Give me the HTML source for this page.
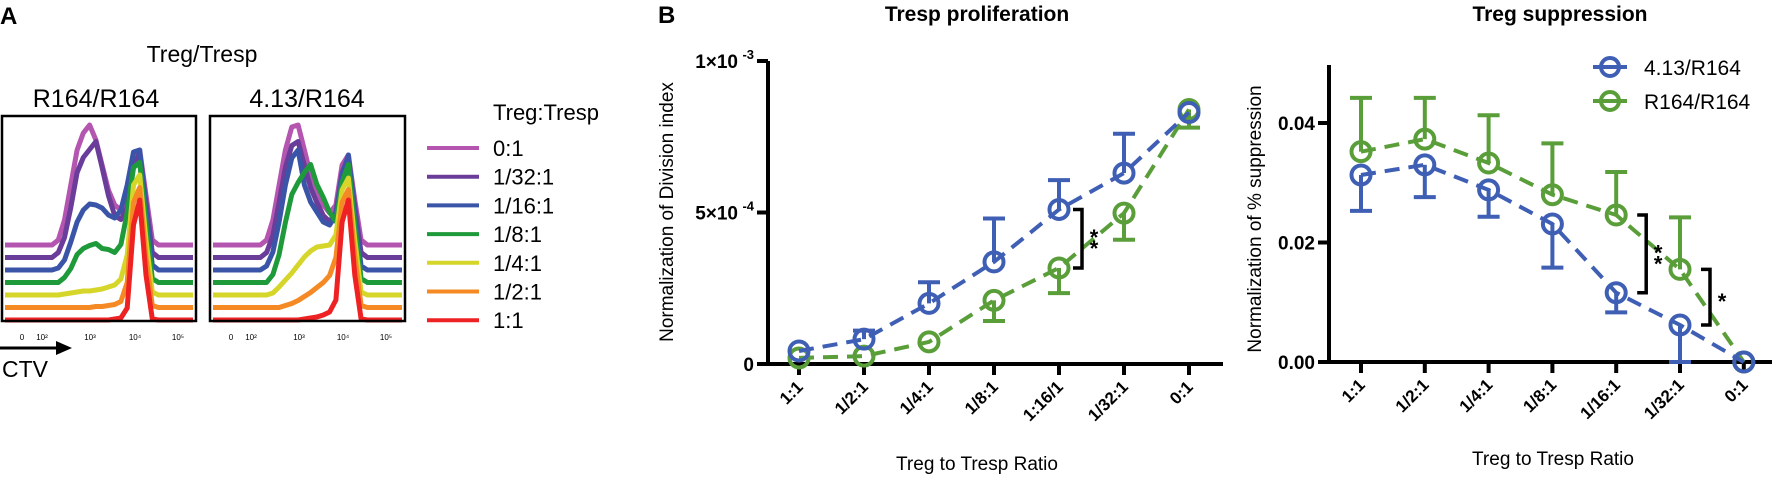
<!DOCTYPE html>
<html><head><meta charset="utf-8">
<style>
html,body{margin:0;padding:0;background:#fff;}
svg{display:block;font-family:"Liberation Sans",sans-serif;}
</style></head>
<body>
<svg id="fig" width="1772" height="477" viewBox="0 0 1772 477" xmlns="http://www.w3.org/2000/svg">
  <text x="0" y="24" font-size="24" font-weight="bold">A</text>
  <text x="202" y="62" font-size="23" text-anchor="middle">Treg/Tresp</text>
  <text x="96" y="107" font-size="25" text-anchor="middle">R164/R164</text>
  <text x="307" y="107" font-size="25" text-anchor="middle">4.13/R164</text>
  <g id="histA"></g>
  <rect x="2" y="116" width="194" height="205" fill="none" stroke="#000" stroke-width="2.5"/>
  <rect x="210" y="116" width="195" height="205" fill="none" stroke="#000" stroke-width="2.5"/>
  <g font-size="8" text-anchor="middle">
    <text x="22" y="340">0</text><text x="42" y="340">10²</text><text x="90" y="340">10³</text><text x="135" y="340">10⁴</text><text x="178" y="340">10⁵</text>
    <text x="231" y="340">0</text><text x="251" y="340">10²</text><text x="299" y="340">10³</text><text x="343" y="340">10⁴</text><text x="386" y="340">10⁵</text>
  </g>
  <line x1="0" y1="348" x2="58" y2="348" stroke="#000" stroke-width="3"/>
  <polygon points="56,341 72,348 56,355" fill="#000"/>
  <text x="2" y="377" font-size="23">CTV</text>
  <text x="493" y="120" font-size="22">Treg:Tresp</text>
  <g id="legA"></g>

  <text x="658" y="23" font-size="24" font-weight="bold">B</text>
  <text x="977" y="21" font-size="21" font-weight="bold" text-anchor="middle">Tresp proliferation</text>
  <text x="1560" y="21" font-size="21" font-weight="bold" text-anchor="middle">Treg suppression</text>
  <text transform="translate(673,212) rotate(-90)" font-size="19" text-anchor="middle">Normalization of Division index</text>
  <text transform="translate(1261,219) rotate(-90)" font-size="19" text-anchor="middle">Normalization of % suppression</text>
  <text x="977" y="470" font-size="19" text-anchor="middle">Treg to Tresp Ratio</text>
  <text x="1553" y="465" font-size="19" text-anchor="middle">Treg to Tresp Ratio</text>
  <g id="c1"></g>
  <g id="c2"></g>

  <g>
    <g>
      <line x1="1593" y1="67" x2="1627" y2="67" stroke="#3f5fb5" stroke-width="4"/>
      <circle cx="1610" cy="67" r="9" fill="none" stroke="#3f5fb5" stroke-width="4"/>
      <text x="1644" y="75" font-size="21">4.13/R164</text>
    </g>
    <g>
      <line x1="1593" y1="101" x2="1627" y2="101" stroke="#5a9e3a" stroke-width="4"/>
      <circle cx="1610" cy="101" r="9" fill="none" stroke="#5a9e3a" stroke-width="4"/>
      <text x="1644" y="109" font-size="21">R164/R164</text>
    </g>
  </g>
</svg>
<script>
const histLabels = ["0:1","1/32:1","1/16:1","1/8:1","1/4:1","1/2:1","1:1"];
const histColors = ["#b455b0","#6a3d9a","#3a55a8","#1f9a3a","#d6d62a","#f58a25","#ee2222"];
const histR164 = [
 [0,0,0,0,0,0,0,0,5,25,60,95,112,120,105,80,55,40,35,45,85,95,50,5,0,0,0,0,0,0],
 [0,0,0,0,0,0,0,0,5,20,50,85,100,108,116,90,62,42,38,50,90,105,55,5,0,0,0,0,0,0],
 [0,0,0,0,0,0,0,0,2,10,28,48,60,66,65,62,55,52,60,85,118,120,60,5,0,0,0,0,0,0],
 [0,0,0,0,0,0,0,0,0,5,14,28,34,37,39,34,33,30,38,70,115,120,60,4,0,0,0,0,0,0],
 [0,0,0,0,0,0,0,0,0,1,2,3,4,4,5,6,8,10,16,40,110,120,55,3,0,0,0,0,0,0],
 [0,0,0,0,0,0,0,0,0,0,0,0,0,0,1,1,2,3,6,25,105,120,50,2,0,0,0,0,0,0],
 [0,0,0,0,0,0,0,0,0,0,0,0,0,0,0,0,0,1,2,12,95,120,45,1,0,0,0,0,0,0]
];
const hist413 = [
 [0,0,0,0,0,0,0,0,5,25,60,95,118,120,95,70,55,40,32,40,80,90,45,5,0,0,0,0,0,0],
 [0,0,0,0,0,0,0,0,5,22,55,90,112,116,92,70,55,42,36,45,85,100,50,5,0,0,0,0,0,0],
 [0,0,0,0,0,0,0,0,4,18,48,85,112,120,85,68,58,48,45,55,95,115,55,4,0,0,0,0,0,0],
 [0,0,0,0,0,0,0,0,0,8,28,60,88,100,110,118,98,85,70,61,100,118,58,4,0,0,0,0,0,0],
 [0,0,0,0,0,0,0,0,0,2,8,15,22,30,38,44,48,49,50,60,105,117,55,3,0,0,0,0,0,0],
 [0,0,0,0,0,0,0,0,0,0,0,2,4,7,11,15,20,25,32,50,105,118,52,2,0,0,0,0,0,0],
 [0,0,0,0,0,0,0,0,0,0,0,0,0,0,1,2,3,5,8,20,98,120,45,1,0,0,0,0,0,0]
];

const ratioCats = ["1:1","1/2:1","1/4:1","1/8:1","1:16/1","1/32:1","0:1"];
const ratioCats2 = ["1:1","1/2:1","1/4:1","1/8:1","1/16:1","1/32:1","0:1"];
const prolif413 = [4.3e-5, 8.2e-5, 2.0e-4, 3.37e-4, 5.1e-4, 6.3e-4, 8.3e-4];
const prolif413Err = [0, 2.8e-5, 7e-5, 1.43e-4, 9.7e-5, 1.3e-4, 0];
const prolifR164 = [2.0e-5, 2.6e-5, 7.3e-5, 2.1e-4, 3.17e-4, 4.98e-4, 8.4e-4];
const prolifR164Err = [0, 0, 0, 6.8e-5, 8.3e-5, 8.8e-5, 6e-5];
const yTicks1 = [0, 5e-4, 1e-3];
const yTickLabels1 = [["0",""],["5×10","-4"],["1×10","-3"]];
const supp413 = [0.0313, 0.033, 0.0288, 0.0231, 0.0116, 0.0062, 0];
const supp413Err = [0.006, 0.0054, 0.0045, 0.0073, 0.0033, 0.0062, 0];
const suppR164 = [0.0352, 0.0373, 0.0333, 0.028, 0.0246, 0.0155, 0];
const suppR164Err = [0.009, 0.0069, 0.008, 0.0086, 0.0072, 0.0087, 0];
const yTicks2 = [0, 0.02, 0.04];
const yTickLabels2 = ["0.00","0.02","0.04"];

const NS = "http://www.w3.org/2000/svg";
function mk(tag, attrs, parent){ const e=document.createElementNS(NS,tag); for(const k in attrs) e.setAttribute(k,attrs[k]); parent.appendChild(e); return e; }

const histA = document.getElementById('histA');
function drawHist(data, boxX, boxW){
  const n = data[0].length;
  for(let t=0;t<data.length;t++){
    const base = 245 + t*12.5;
    let d = "";
    data[t].forEach((h,i)=>{ const x = boxX + 3 + (i+0.5)*(boxW-6)/n; d += (i?"L":"M")+x.toFixed(1)+","+(base-h).toFixed(1); });
    d = "M"+(boxX+3)+","+base+"L"+d.slice(1)+"L"+(boxX+boxW-3)+","+base;
    const p = mk('path',{d:d,fill:"none",stroke:histColors[t],"stroke-width":"5","stroke-linejoin":"round"},histA);
    
    
  }
}
drawHist(histR164, 2, 194);
drawHist(hist413, 210, 195);

const legA = document.getElementById('legA');
histLabels.forEach((lab,i)=>{
  const y = 148 + i*28.7;
  const g = mk('g',{},legA);
  
  
  mk('line',{x1:427,y1:y,x2:479,y2:y,stroke:histColors[i],"stroke-width":"4"},g);
  const t = mk('text',{x:493,y:y+8,"font-size":"22"},g); t.textContent = lab;
});

const BLUE="#3f5fb5", GREEN="#5a9e3a";
function drawChart(gid, cfg){
  const g = document.getElementById(gid);
  const x = i => cfg.x0 + cfg.dx*i;
  const y = v => cfg.yBase - v*cfg.yScale;
  const ya = mk('line',{x1:cfg.axX,y1:y(cfg.yMax),x2:cfg.axX,y2:cfg.yBase+1.5,stroke:"#000","stroke-width":"4"},g);
   
  const xa = mk('line',{x1:cfg.axX-11,y1:cfg.yBase,x2:cfg.xEnd,y2:cfg.yBase,stroke:"#000","stroke-width":"4"},g);
   
  cfg.yTicks.forEach((v,i)=>{
    mk('line',{x1:cfg.axX-11,y1:y(v),x2:cfg.axX,y2:y(v),stroke:"#000","stroke-width":"4"},g);
    const t = mk('text',{x:cfg.axX-14,y:y(v)+7,"font-size":"19","font-weight":"bold","text-anchor":"end"},g);
     
    const lab = cfg.yLabels[i];
    if(Array.isArray(lab)){
      if(lab[1]){ t.setAttribute('x',cfg.axX-30); t.textContent=lab[0];
        const s = mk('text',{x:cfg.axX-14,y:y(v)-2,"font-size":"13","font-weight":"bold","text-anchor":"end"},g); s.textContent=lab[1];
         
      } else t.textContent = lab[0];
    } else t.textContent = lab;
  });
  cfg.cats.forEach((c,i)=>{
    mk('line',{x1:x(i),y1:cfg.yBase,x2:x(i),y2:cfg.yBase+11,stroke:"#000","stroke-width":"4"},g);
    const t = mk('text',{transform:`translate(${x(i)+5},${cfg.yBase+24}) rotate(-45)`,"font-size":"17","font-weight":"bold","text-anchor":"end"},g);
     
    t.textContent = c;
  });
  cfg.series.forEach(s=>{
    const sg = mk('g',{},g);
    
    
    s.vals.forEach((v,i)=>{
      const e = s.err[i]; if(!e) return;
      const ye = y(v + s.dir*e);
      mk('line',{x1:x(i),y1:y(v),x2:x(i),y2:ye,stroke:s.color,"stroke-width":"4"},sg);
      const cap = mk('line',{x1:x(i)-11,y1:ye,x2:x(i)+11,y2:ye,stroke:s.color,"stroke-width":"4"},sg);
       
    });
    const pts = s.vals.map((v,i)=>x(i).toFixed(1)+","+y(v).toFixed(1)).join(" ");
    const pl = mk('polyline',{points:pts,fill:"none",stroke:s.color,"stroke-width":"4","stroke-dasharray":"15 9"},sg);
     
    s.vals.forEach((v,i)=>{
      const c = mk('circle',{cx:x(i),cy:y(v),r:9.5,fill:"none",stroke:s.color,"stroke-width":"4"},sg);
       
    });
  });
  return {x,y,g};
}

const c1 = drawChart('c1',{x0:799,dx:65,yBase:364,yScale:303000,axX:768,xEnd:1223,yMax:1e-3,
  yTicks:yTicks1,yLabels:yTickLabels1,cats:ratioCats,
  series:[{name:'r164',color:GREEN,vals:prolifR164,err:prolifR164Err,dir:-1},
          {name:'413',color:BLUE,vals:prolif413,err:prolif413Err,dir:1}]});
const c2 = drawChart('c2',{x0:1361,dx:63.8,yBase:362,yScale:5975,axX:1329,xEnd:1772,yMax:0.0497,
  yTicks:yTicks2,yLabels:yTickLabels2,cats:ratioCats2,
  series:[{name:'r164',color:GREEN,vals:suppR164,err:suppR164Err,dir:1},
          {name:'413',color:BLUE,vals:supp413,err:supp413Err,dir:-1}]});

function bracket(ch, i, vTop, vBot, stars, dxOff){
  const bx = ch.x(i) + dxOff, y1 = ch.y(vTop), y2 = ch.y(vBot);
  const p = mk('path',{d:`M${bx-9},${y1}H${bx}V${y2}H${bx-9}`,fill:"none",stroke:"#000","stroke-width":"3.5"},ch.g);
   
  const mid = (y1+y2)/2;
  for(let k=0;k<stars;k++){
    const yy = mid + 12 + (k - (stars-1)/2)*11;
    const t = mk('text',{x:bx+12,y:yy,"font-size":"22","font-weight":"bold","text-anchor":"middle"},ch.g);
     
    t.textContent = "*";
  }
}
bracket(c1, 4, prolif413[4], prolifR164[4], 2, 23);
bracket(c2, 4, suppR164[4], supp413[4], 2, 30);
bracket(c2, 5, suppR164[5], supp413[5], 1, 30);
</script>
</body></html>
